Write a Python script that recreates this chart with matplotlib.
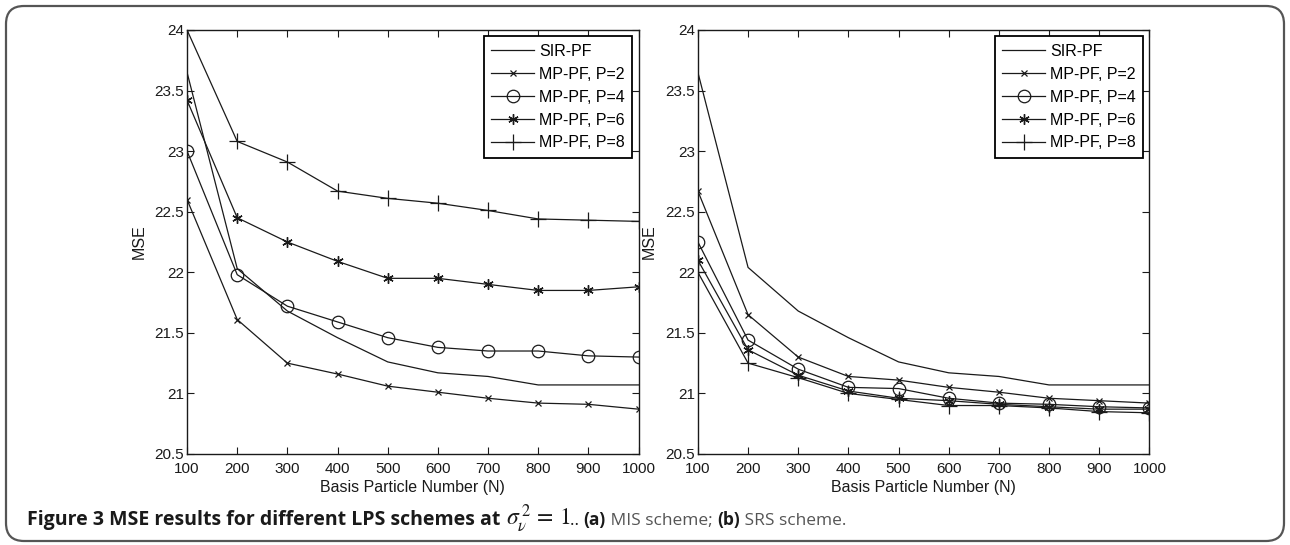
import matplotlib.pyplot as plt
import matplotlib.transforms as mtransforms
from matplotlib.patches import FancyBboxPatch
from matplotlib.text import Annotation

# Basis particle numbers on the x axis
N = [100, 200, 300, 400, 500, 600, 700, 800, 900, 1000]

# (a) MIS scheme
sir_a = [23.65, 22.03, 21.68, 21.46, 21.26, 21.17, 21.14, 21.07, 21.07, 21.07]
p2_a = [22.60, 21.61, 21.25, 21.16, 21.06, 21.01, 20.96, 20.92, 20.91, 20.87]
p4_a = [23.00, 21.98, 21.72, 21.59, 21.46, 21.38, 21.35, 21.35, 21.31, 21.30]
p6_a = [23.42, 22.45, 22.25, 22.09, 21.95, 21.95, 21.90, 21.85, 21.85, 21.88]
p8_a = [24.00, 23.08, 22.91, 22.67, 22.61, 22.57, 22.51, 22.44, 22.43, 22.42]

# (b) SRS scheme
sir_b = [23.65, 22.04, 21.68, 21.46, 21.26, 21.17, 21.14, 21.07, 21.07, 21.07]
p2_b = [22.67, 21.65, 21.30, 21.14, 21.11, 21.05, 21.01, 20.96, 20.94, 20.92]
p4_b = [22.25, 21.44, 21.20, 21.05, 21.04, 20.96, 20.92, 20.91, 20.89, 20.88]
p6_b = [22.10, 21.36, 21.15, 21.02, 20.96, 20.94, 20.91, 20.89, 20.87, 20.87]
p8_b = [22.00, 21.25, 21.13, 21.00, 20.95, 20.90, 20.90, 20.88, 20.85, 20.84]

labels = ["SIR-PF", "MP-PF, P=2", "MP-PF, P=4", "MP-PF, P=6", "MP-PF, P=8"]
yticks = [20.5, 21, 21.5, 22, 22.5, 23, 23.5, 24]
ytick_labels = ["20.5", "21", "21.5", "22", "22.5", "23", "23.5", "24"]

plt.rcParams["font.family"] = ["Liberation Sans Narrow", "Liberation Sans", "DejaVu Sans"]
ink = "#1a1a1a"

fig = plt.figure(figsize=(12.9, 5.45), dpi=100)
ax1 = fig.add_axes([0.145, 0.167, 0.350, 0.778])
ax2 = fig.add_axes([0.541, 0.167, 0.350, 0.778])

# marker styles: none, x, open circle, asterisk, plus
styles = [
    dict(marker=None),
    dict(marker="x", ms=5, mew=0.9),
    dict(marker="o", ms=9, mew=0.9, mfc="none"),
    dict(marker=(6, 2, 0), ms=7.5, mew=1.0),
    dict(marker="+", ms=11, mew=0.9),
]

for ax, series in [(ax1, [sir_a, p2_a, p4_a, p6_a, p8_a]),
                   (ax2, [sir_b, p2_b, p4_b, p6_b, p8_b])]:
    for y, lab, st in zip(series, labels, styles):
        ax.plot(N, y, color=ink, lw=0.9, label=lab, **st)
    ax.set_xlim(100, 1000)
    ax.set_ylim(20.5, 24)
    ax.set_xticks(N)
    ax.set_yticks(yticks)
    ax.set_yticklabels(ytick_labels)
    ax.tick_params(direction="in", top=True, right=True, length=5,
                   width=0.8, labelsize=11, colors=ink)
    ax.tick_params(axis="x", pad=6)
    ax.tick_params(axis="y", pad=2)
    for sp in ax.spines.values():
        sp.set_linewidth(1.0)
        sp.set_color(ink)
    ax.set_xlabel("Basis Particle Number (N)", fontsize=11.5, color=ink, labelpad=3)
    ax.set_ylabel("MSE", fontsize=11.5, color=ink, labelpad=6)
    leg = ax.legend(loc="upper right", fontsize=11.5, handlelength=2.7,
                    labelspacing=0.5, borderaxespad=0.4, fancybox=False,
                    framealpha=1, borderpad=0.45, handletextpad=0.3)
    leg.get_frame().set_edgecolor("black")
    leg.get_frame().set_linewidth(1.3)

# rounded border around the whole figure (pixel coordinates)
border = FancyBboxPatch((6, 4), 1278, 535,
                        boxstyle="round,pad=0,rounding_size=18",
                        transform=mtransforms.IdentityTransform(),
                        fill=False, edgecolor="#555555", linewidth=1.6)
fig.add_artist(border)

# caption built piece by piece on one baseline
cap_y = 0.036
cap_font = ["Open Sans", "DejaVu Sans"]
t = fig.text(0.021, cap_y, "Figure 3 MSE results for different LPS schemes at ",
             fontsize=14, fontweight="bold", family=cap_font, color=ink,
             va="baseline")
pieces = [
    (r"$\sigma_{\nu}^{\,2}\,=\,1$", dict(fontsize=17, color=ink, math_fontfamily="stix")),
    (".. ", dict(fontsize=12.5, color=ink, family=cap_font)),
    ("(a)", dict(fontsize=12.5, fontweight="bold", color=ink, family=cap_font)),
    (" MIS scheme; ", dict(fontsize=12.5, color="#555555", family=cap_font)),
    ("(b)", dict(fontsize=12.5, fontweight="bold", color=ink, family=cap_font)),
    (" SRS scheme.", dict(fontsize=12.5, color="#555555", family=cap_font)),
]
for s, kw in pieces:
    t = fig.add_artist(Annotation(s, xy=(1, cap_y), xycoords=(t, "figure fraction"),
                                  va="baseline", ha="left", **kw))

fig.savefig("out.png", dpi=100)
